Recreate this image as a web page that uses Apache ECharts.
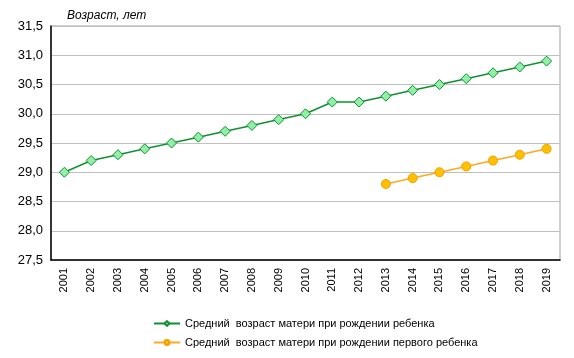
<!DOCTYPE html>
<html><head><meta charset="utf-8">
<script src="https://cdn.jsdelivr.net/npm/echarts@6/dist/echarts.min.js"></script>
<style>html,body{margin:0;padding:0;background:#fff}#c{width:574px;height:358px}</style>
</head><body><div id="c"></div>
<script>
var years = ['2001','2002','2003','2004','2005','2006','2007','2008','2009','2010','2011','2012','2013','2014','2015','2016','2017','2018','2019'];
var ageAll = [29.0,29.2,29.3,29.4,29.5,29.6,29.7,29.8,29.9,30.0,30.2,30.2,30.3,30.4,30.5,30.6,30.7,30.8,30.9];
var ageFirst = [null,null,null,null,null,null,null,null,null,null,null,null,28.8,28.9,29.0,29.1,29.2,29.3,29.4];
var seriesNames = ['Средний  возраст матери при рождении ребенка','Средний  возраст матери при рождении первого ребенка'];
var yTitle = 'Возраст, лет';

var chart = echarts.init(document.getElementById('c'), null, {renderer:'canvas'});
chart.setOption({
  animation:false,
  backgroundColor:'#fff',
  textStyle:{fontFamily:'Arial, Liberation Sans, sans-serif'},
  title:{text:yTitle,left:62,top:5,textStyle:{fontSize:12,fontStyle:'italic',fontWeight:'normal',color:'#000'}},
  grid:{left:51,right:14,top:26,bottom:98,show:true,borderColor:'#a0a0a0',borderWidth:1},
  legend:{orient:'vertical',left:148,top:313,itemGap:8,itemWidth:26,itemHeight:6,
    textStyle:{fontSize:11,color:'#000'},data:seriesNames},
  xAxis:{type:'category',data:years,boundaryGap:true,
    axisLine:{lineStyle:{color:'#000',width:1.5}},axisTick:{show:false},
    axisLabel:{rotate:90,fontSize:11,color:'#000',margin:8}},
  yAxis:{type:'value',min:27.5,max:31.5,interval:0.5,
    axisLine:{show:true,lineStyle:{color:'#000',width:1.5}},axisTick:{show:false},
    splitLine:{lineStyle:{color:'#c0c0c0'}},
    axisLabel:{fontSize:13,color:'#000',margin:8,formatter:function(v){return v.toFixed(1).replace('.',',');}}},
  series:[
    {name:seriesNames[0],type:'line',data:ageAll,symbol:'diamond',symbolSize:10,
      lineStyle:{color:'#109030',width:1.5},
      itemStyle:{color:'#90f0a8',borderColor:'#109030',borderWidth:1}},
    {name:seriesNames[1],type:'line',data:ageFirst,symbol:'circle',symbolSize:9,
      lineStyle:{color:'#ffa820',width:1.5},
      itemStyle:{color:'#ffc000',borderColor:'#f0a000',borderWidth:1}}
  ]
});
</script></body></html>
